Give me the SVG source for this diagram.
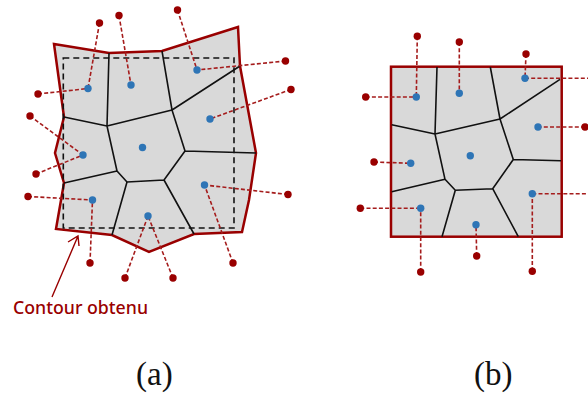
<svg xmlns="http://www.w3.org/2000/svg" width="588" height="394" viewBox="0 0 588 394">
<style>
.cell{fill:#d9d9d9;stroke:#990000;stroke-width:2.5;stroke-linejoin:miter}
.edge{fill:none;stroke:#111;stroke-width:1.6;stroke-linejoin:round}
.guide{fill:none;stroke:#111;stroke-width:1.6;stroke-dasharray:6 4}
.link{fill:none;stroke:#a51c1c;stroke-width:1.6;stroke-dasharray:4 2.2}
.seed{fill:#2e75b6}
.site{fill:#990000}
.lab{font-family:"Liberation Serif",serif;font-size:33px;fill:#111}
.note{font-family:"Noto Sans","Open Sans",sans-serif;font-size:18.5px;font-weight:500;fill:#990000}
</style>
<g id="panel-a-shape">
<path class="cell" d="M54 44L109 53L162 51L238 27L240 66L256 153L249 200L242 232L194 234L149 252L112 235L56 229L64 183L55 153L64 117Z"/>
<path class="edge" d="M64 117L107 126L172 110L185 151L256 153M109 53L107 126M162 51L172 110L240 66M107 126L117 171L127 182L164 180L185 151M117 171L64 183M127 182L112 235M164 180L194 234"/>
<rect class="guide" x="63.300" y="58" width="170.700" height="170"/>
</g>
<g id="connectors-a">
<path class="link" d="M99.500 23L88 88.500M38 94L88 88.500M119 15.500L131 85M177.500 10L197 70M285.500 61L197 70M291 89.500L210 119M30 116L83 155M36 174L83 155M28 196.500L92.500 200M90 263L92.500 200M125 278L148 216M173 278L148 216M233 263L204.500 185M288 194.500L204.500 185"/>
</g>
<g id="sites-a">
<circle class="site" cx="99.500" cy="23" r="3.7"/><circle class="site" cx="119" cy="15.500" r="3.7"/><circle class="site" cx="177.500" cy="10" r="3.7"/><circle class="site" cx="285.500" cy="61" r="3.7"/><circle class="site" cx="291" cy="89.500" r="3.7"/><circle class="site" cx="38" cy="94" r="3.7"/><circle class="site" cx="30" cy="116" r="3.7"/><circle class="site" cx="36" cy="174" r="3.7"/><circle class="site" cx="28" cy="196.500" r="3.7"/><circle class="site" cx="90" cy="263" r="3.7"/><circle class="site" cx="125" cy="278" r="3.7"/><circle class="site" cx="173" cy="278" r="3.7"/><circle class="site" cx="233" cy="263" r="3.7"/><circle class="site" cx="288" cy="194.500" r="3.7"/>
</g>
<g id="seeds-a">
<circle class="seed" cx="88" cy="88.500" r="3.7"/><circle class="seed" cx="131" cy="85" r="3.7"/><circle class="seed" cx="197" cy="70" r="3.7"/><circle class="seed" cx="210" cy="119" r="3.7"/><circle class="seed" cx="142.500" cy="147.500" r="3.7"/><circle class="seed" cx="83" cy="155" r="3.7"/><circle class="seed" cx="92.500" cy="200" r="3.7"/><circle class="seed" cx="148" cy="216" r="3.7"/><circle class="seed" cx="204.500" cy="185" r="3.7"/>
</g>
<g id="annotation">
<path d="M52 297L78 236M68 242L78 236L79 246" fill="none" stroke="#990000" stroke-width="1.4"/>
<text class="note" x="13" y="314" textLength="135" lengthAdjust="spacingAndGlyphs">Contour obtenu</text>
</g>
<g id="panel-b-shape">
<rect class="cell" x="391" y="66.700" width="170.700" height="170"/>
<path class="edge" d="M437 67L435 134L500 119L513.300 159.500L561 160.700M391.700 124.700L435 134M490.300 67L500 119L560 79.300M435 134L445 179.300L455.300 190.300L492.700 188.700L513.300 159.500M445 179.300L391.700 191.700M455.300 190.300L442 236.700M492.700 188.700L518.300 236.700"/>
</g>
<g id="connectors-b">
<path class="link" d="M417.300 36.300L416.300 97M365.700 97L416.300 97M459.300 42L459.300 93.300M526 54L525 78.300M525 78.300L588 78.300M585 127L538 127M374 162L410.700 163.300M360.300 208.300L420.700 208.300M420.700 272L420.700 208.300M476.700 256L476 224.700M532.300 271.300L532.300 193.700M532.300 193.700L588 193.700"/>
</g>
<g id="sites-b">
<circle class="site" cx="417.300" cy="36.300" r="3.7"/><circle class="site" cx="459.300" cy="42" r="3.7"/><circle class="site" cx="526" cy="54" r="3.7"/><circle class="site" cx="365.700" cy="97" r="3.7"/><circle class="site" cx="585" cy="127" r="3.7"/><circle class="site" cx="374" cy="162" r="3.7"/><circle class="site" cx="360.300" cy="208.300" r="3.7"/><circle class="site" cx="420.700" cy="272" r="3.7"/><circle class="site" cx="476.700" cy="256" r="3.7"/><circle class="site" cx="532.300" cy="271.300" r="3.7"/>
</g>
<g id="seeds-b">
<circle class="seed" cx="416.300" cy="97" r="3.7"/><circle class="seed" cx="459.300" cy="93.300" r="3.7"/><circle class="seed" cx="525" cy="78.300" r="3.7"/><circle class="seed" cx="538" cy="127" r="3.7"/><circle class="seed" cx="470.300" cy="155.700" r="3.7"/><circle class="seed" cx="410.700" cy="163.300" r="3.7"/><circle class="seed" cx="420.700" cy="208.300" r="3.7"/><circle class="seed" cx="476" cy="224.700" r="3.7"/><circle class="seed" cx="532.300" cy="193.700" r="3.7"/>
</g>
<g id="captions">
<text class="lab" x="136" y="385">(a)</text>
<text class="lab" x="474" y="385">(b)</text>
</g>
</svg>
